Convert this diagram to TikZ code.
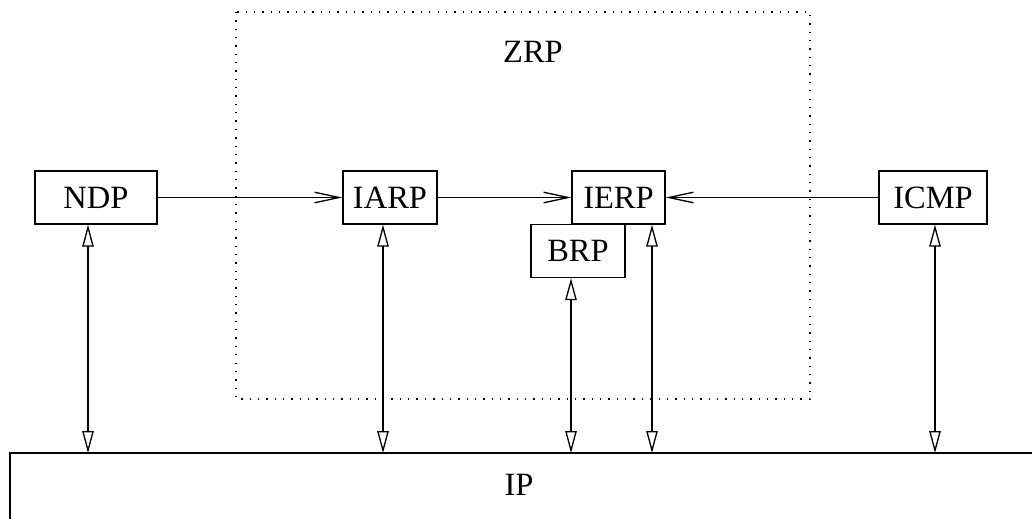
\documentclass[tikz,border=0pt]{standalone}
\usepackage{fontspec}
\setmainfont{Liberation Serif}
\usetikzlibrary{arrows.meta}
\begin{document}
\begin{tikzpicture}[x=0.02cm,y=-0.02cm,
  every node/.style={font=\fontsize{18.5}{21}\selectfont},
  proto/.style={draw,line width=0.75pt,minimum height=1.06cm,inner sep=0pt},
  link/.style={line width=0.75pt},
  feed/.style={link,-{Straight Barb[length=14pt,width=6pt,line width=0.75pt]}},
  both/.style={link,{Triangle[open,length=12.5pt,width=6.5pt,line width=0.75pt]}-{Triangle[open,length=12.5pt,width=6.5pt,line width=0.75pt]}},
  zone/.style={line width=0.75pt,dash pattern=on 0.75pt off 4pt}]
  \useasboundingbox (0,0) rectangle (1032,518);

  % zone of the routing protocol
  \draw[zone] (236,12) rectangle (810,399);
  \node (zrp) at (533,52) {ZRP};

  % protocol boxes
  \node[proto,minimum width=2.44cm] (ndp)  at (96,197.5)  {NDP};
  \node[proto,minimum width=1.88cm] (iarp) at (390,197.5) {IARP};
  \node[proto,minimum width=1.86cm] (ierp) at (618.5,197.5) {IERP};
  \node[proto,minimum width=1.88cm] (brp)  at (578,251)   {BRP};
  \node[proto,minimum width=2.16cm] (icmp) at (933,197.5) {ICMP};

  % IP layer, open to the right and below
  \draw[link] (1040,453) -- (10,453) -- (10,530);
  \node (ip) at (519,485) {IP};

  % attachment points on the IP layer
  \coordinate (pN) at (88,453);
  \coordinate (pA) at (383,453);
  \coordinate (pB) at (571,453);
  \coordinate (pE) at (652,453);
  \coordinate (pC) at (935,453);

  % feeds between protocols
  \draw[feed] (ndp.east) -- (iarp.west);
  \draw[feed] (iarp.east) -- (ierp.west);
  \draw[feed] (icmp.west) -- (ierp.east);

  % exchanges with IP
  \draw[both] (pN |- ndp.south)  -- (pN);
  \draw[both] (pA |- iarp.south) -- (pA);
  \draw[both] (pB |- brp.south)  -- (pB);
  \draw[both] (pE |- ierp.south) -- (pE);
  \draw[both] (pC |- icmp.south) -- (pC);
\end{tikzpicture}
\end{document}
